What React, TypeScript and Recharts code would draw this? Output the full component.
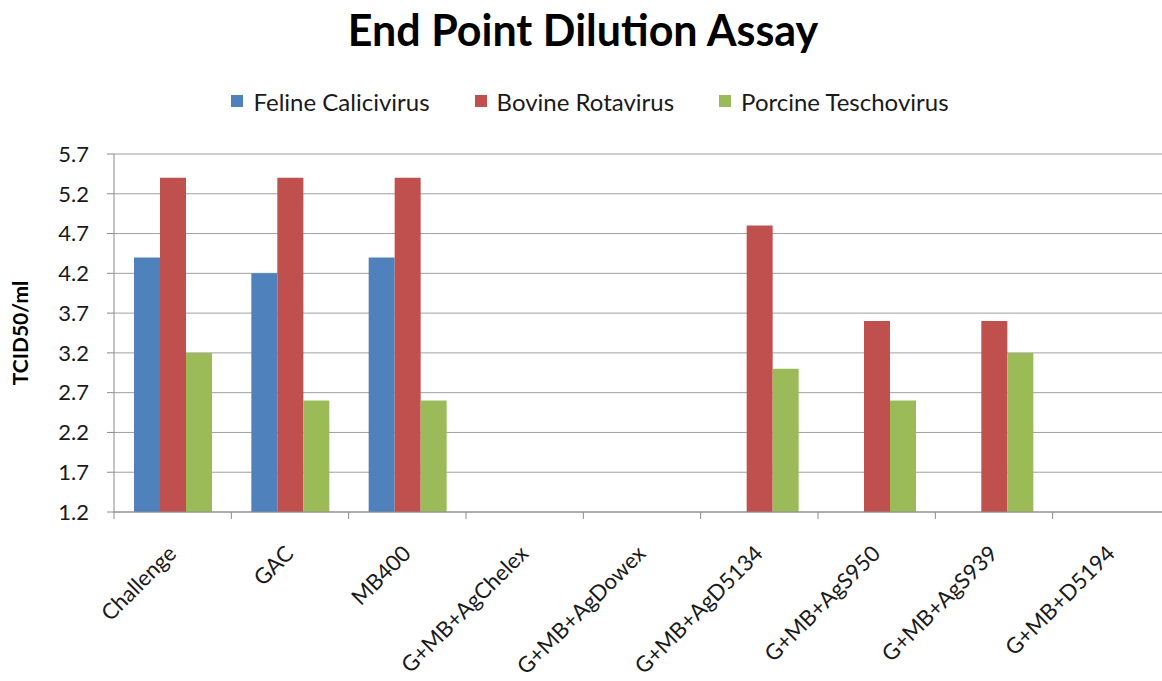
import React from 'react';
import { BarChart, Bar, XAxis, YAxis, CartesianGrid, Legend } from 'recharts';

const categories = ['Challenge', 'GAC', 'MB400', 'G+MB+AgChelex', 'G+MB+AgDowex', 'G+MB+AgD5134', 'G+MB+AgS950', 'G+MB+AgS939', 'G+MB+D5194'];
const felineCalicivirus = [4.4, 4.2, 4.4, null, null, null, null, null, null];
const bovineRotavirus = [5.4, 5.4, 5.4, null, null, 4.8, 3.6, 3.6, null];
const porcineTeschovirus = [3.2, 2.6, 2.6, null, null, 3.0, 2.6, 3.2, null];
const yTicks = [1.2, 1.7, 2.2, 2.7, 3.2, 3.7, 4.2, 4.7, 5.2, 5.7];
const seriesNames = ['Feline Calicivirus', 'Bovine Rotavirus', 'Porcine Teschovirus'];
const seriesColors = ['#4F81BD', '#C0504D', '#9BBB59'];

const data = categories.map((c, i) => ({
  name: c,
  feline: felineCalicivirus[i],
  bovine: bovineRotavirus[i],
  porcine: porcineTeschovirus[i],
}));

const FONT = 'Lato, "Open Sans", sans-serif';
const CHART_W = 1180;
const CHART_H = 681;
const Y_AXIS_W = 114;
const LEGEND_H = 30;
const MARGIN = { top: 154 - LEGEND_H, right: 10, left: 0, bottom: 69 };
const PLOT_W = CHART_W - Y_AXIS_W - MARGIN.left - MARGIN.right;
const BAND = PLOT_W / categories.length;

const XTick = (props: any) => {
  const { x, y, payload, index } = props;
  const left = x - BAND / 2;
  return (
    <g>
      <line x1={left} y1={y} x2={left} y2={y + 7} stroke="#8c8c8c" strokeWidth={1} />
      {index === categories.length - 1 && (
        <line x1={x + BAND / 2} y1={y} x2={x + BAND / 2} y2={y + 7} stroke="#8c8c8c" strokeWidth={1} />
      )}
      <text
        x={0}
        y={0}
        transform={`translate(${x + 5}, ${y + 43}) rotate(-45)`}
        textAnchor="end"
        fontFamily={FONT}
        fontSize={22}
        fill="#1a1a1a"
      >
        {payload.value}
      </text>
    </g>
  );
};

const renderLegend = () => (
  <div
    style={{
      display: 'flex',
      justifyContent: 'center',
      alignItems: 'center',
      height: LEGEND_H,
      fontFamily: FONT,
      fontSize: 24,
      color: '#1a1a1a',
    }}
  >
    {seriesNames.map((n, i) => (
      <div key={n} style={{ display: 'flex', alignItems: 'center', marginRight: i < seriesNames.length - 1 ? 45 : 0 }}>
        <span style={{ display: 'inline-block', width: 12, height: 12, background: seriesColors[i], marginRight: 10 }} />
        <span>{n}</span>
      </div>
    ))}
  </div>
);

const YLabel = (props: any) => {
  const vb = props.viewBox || {};
  const cy = (vb.y || 0) + (vb.height || 0) / 2;
  return (
    <text
      x={19}
      y={cy}
      transform={`rotate(-90 19 ${cy})`}
      textAnchor="middle"
      dominantBaseline="central"
      fontFamily={FONT}
      fontWeight="bold"
      fontSize={21}
      fill="#000"
    >
      TCID50/ml
    </text>
  );
};

export default function App() {
  return (
    <div style={{ position: 'absolute', left: 0, top: 0, width: 1162, height: 681, overflow: 'hidden', background: '#fff' }}>
      <div
        style={{
          position: 'absolute',
          left: 0,
          top: 8,
          width: 1166,
          textAlign: 'center',
          fontFamily: FONT,
          fontWeight: 'bold',
          fontSize: 43,
          lineHeight: 1,
          color: '#000',
        }}
      >
        End Point Dilution Assay
      </div>
      <BarChart width={CHART_W} height={CHART_H} data={data} margin={MARGIN} barGap={0} barSize={26}>
        <CartesianGrid vertical={false} stroke="#a0a0a0" strokeWidth={1} />
        <XAxis
          dataKey="name"
          interval={0}
          tickLine={false}
          tickSize={0}
          tickMargin={0}
          height={100}
          axisLine={{ stroke: '#8c8c8c' }}
          tick={<XTick />}
        />
        <YAxis
          width={Y_AXIS_W}
          domain={[1.2, 5.7]}
          ticks={yTicks}
          interval={0}
          tickFormatter={(v: number) => v.toFixed(1)}
          tick={{ fontFamily: FONT, fontSize: 22, fill: '#1a1a1a' }}
          tickSize={7}
          tickMargin={18}
          axisLine={{ stroke: '#8c8c8c' }}
          tickLine={{ stroke: '#8c8c8c' }}
          label={{ content: <YLabel /> }}
        />
        <Legend verticalAlign="top" content={renderLegend} wrapperStyle={{ top: 86, left: 0, width: 1180, height: LEGEND_H }} />
        <Bar dataKey="feline" name={seriesNames[0]} fill={seriesColors[0]} isAnimationActive={false} />
        <Bar dataKey="bovine" name={seriesNames[1]} fill={seriesColors[1]} isAnimationActive={false} />
        <Bar dataKey="porcine" name={seriesNames[2]} fill={seriesColors[2]} isAnimationActive={false} />
      </BarChart>
    </div>
  );
}
